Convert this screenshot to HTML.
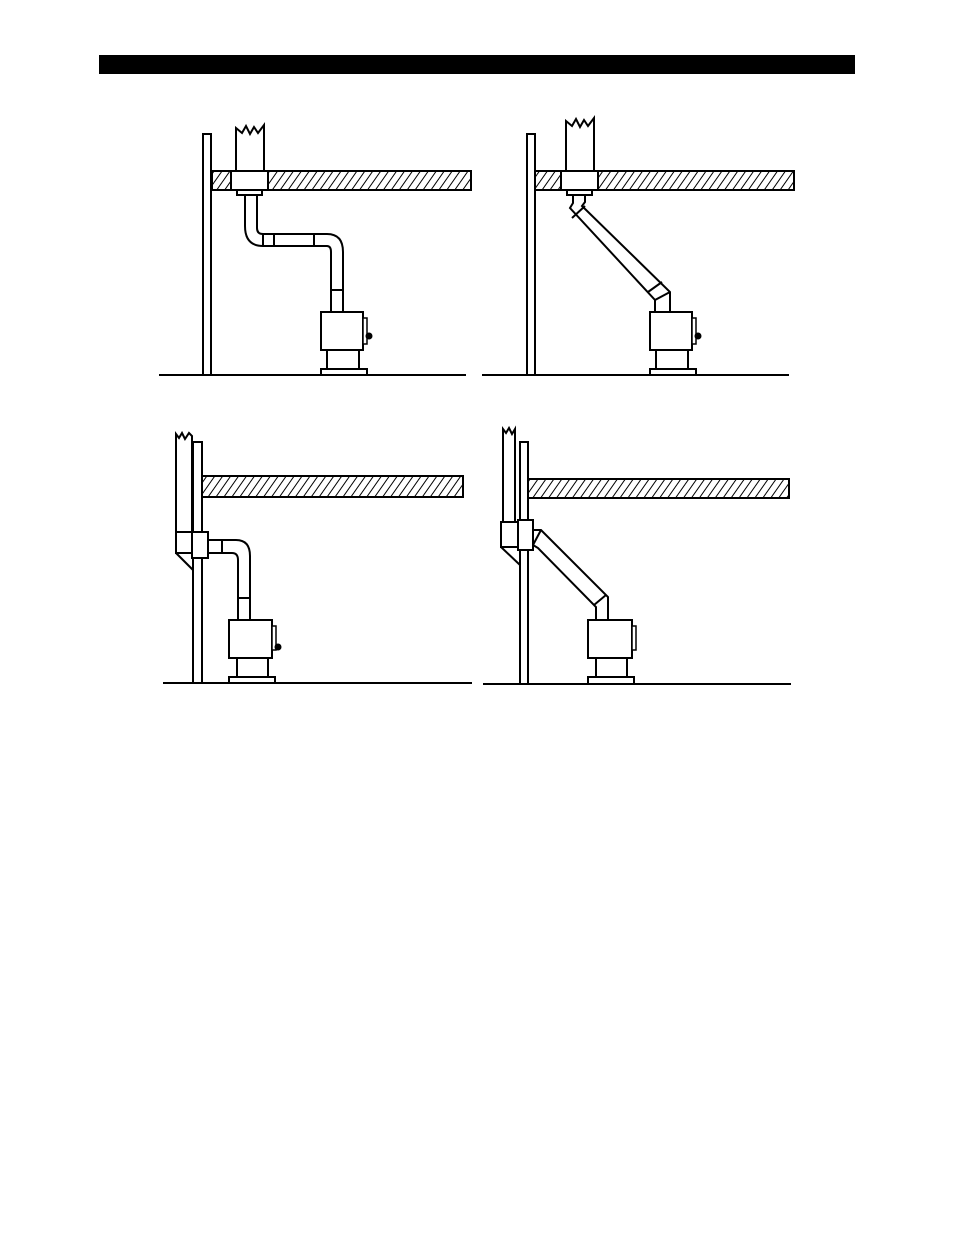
<!DOCTYPE html>
<html><head><style>body{margin:0;background:#fff}svg{display:block}</style></head>
<body>
<svg width="954" height="1235" viewBox="0 0 954 1235" xmlns="http://www.w3.org/2000/svg">
<defs>
<pattern id="h" width="6.5" height="6.5" patternUnits="userSpaceOnUse" patternTransform="rotate(35)">
<line x1="0" y1="0" x2="0" y2="6.5" stroke="#000" stroke-width="2"/>
</pattern>
</defs>
<rect x="99" y="55" width="756" height="19" fill="#000"/>
<g fill="#fff" stroke="#000" stroke-width="2">
<!-- Diagram 1 -->
<line x1="159" y1="375" x2="466" y2="375"/>
<rect x="203" y="134" width="8" height="241"/>
<rect x="212" y="171" width="259" height="19" fill="url(#h)"/>
<path d="M236 190 V128 L242 133 L246 126 L250 134 L254 127 L258 133 L264 125 V190"/>
<rect x="231" y="171" width="37" height="19"/>
<rect x="237" y="190" width="25" height="5"/>
<path d="M245 195 V226 Q245 246 263 246 H327 M257 195 V228 Q257 234 263 234 H327 Q343 234 343 252 V312 M327 246 Q331 246 331 252 V312" fill="none"/>
<line x1="263" y1="234" x2="263" y2="246"/><line x1="274" y1="234" x2="274" y2="246"/><line x1="314" y1="234" x2="314" y2="246"/>
<line x1="331" y1="290" x2="343" y2="290"/>
<rect x="321" y="312" width="42" height="38"/>
<rect x="327" y="350" width="32" height="19"/>
<rect x="321" y="369" width="46" height="6"/>
<rect x="363" y="318" width="4" height="26" stroke-width="1.5"/>
<circle cx="369" cy="336" r="3" fill="#000" stroke-width="1"/>
<!-- Diagram 2 -->
<line x1="482" y1="375" x2="789" y2="375"/>
<rect x="527" y="134" width="8" height="241"/>
<rect x="535" y="171" width="259" height="19" fill="url(#h)"/>
<path d="M566 190 V121 L572 126 L576 119 L580 127 L584 120 L588 126 L594 118 V190"/>
<rect x="561" y="171" width="37" height="19"/>
<rect x="567" y="190" width="25" height="5"/>
<path d="M573 195 V203 L570 208 L655 300 V312 M585 195 V202 L582 206 L670 292 V312" fill="none"/>
<line x1="572" y1="218" x2="585" y2="206"/><line x1="648" y1="292" x2="662" y2="282"/><line x1="655" y1="300" x2="670" y2="292"/>
<rect x="650" y="312" width="42" height="38"/>
<rect x="656" y="350" width="32" height="19"/>
<rect x="650" y="369" width="46" height="6"/>
<rect x="692" y="318" width="4" height="26" stroke-width="1.5"/>
<circle cx="698" cy="336" r="3" fill="#000" stroke-width="1"/>
<!-- Diagram 3 -->
<line x1="163" y1="683" x2="472" y2="683"/>
<path d="M176 533 V434 L179 438 L182 433 L185 439 L189 433 L192 436 V533"/>
<rect x="193" y="442" width="9" height="241"/>
<rect x="202" y="476" width="261" height="21" fill="url(#h)"/>
<rect x="176" y="532" width="17" height="21"/>
<path d="M176 553 L193 570" fill="none"/>
<rect x="192" y="532" width="16" height="26"/>
<path d="M208 540 H236 Q250 540 250 556 V620 M208 553 H232 Q238 553 238 560 V620" fill="none"/>
<line x1="222" y1="540" x2="222" y2="553"/>
<line x1="238" y1="598" x2="250" y2="598"/>
<rect x="229" y="620" width="43" height="38"/>
<rect x="237" y="658" width="31" height="19"/>
<rect x="229" y="677" width="46" height="6"/>
<rect x="272" y="626" width="4" height="24" stroke-width="1.5"/>
<circle cx="278" cy="647" r="3" fill="#000" stroke-width="1"/>
<!-- Diagram 4 -->
<line x1="483" y1="684" x2="791" y2="684"/>
<path d="M503 522 V429 L506 433 L509 428 L512 434 L515 429 V522"/>
<rect x="520" y="442" width="8" height="242"/>
<rect x="528" y="479" width="261" height="19" fill="url(#h)"/>
<rect x="501" y="522" width="19" height="25"/>
<path d="M501 547 L520 565" fill="none"/>
<rect x="518" y="520" width="15" height="30"/>
<path d="M533 530 L541 530 L608 597 V620 M533 545 L538 548 L596 607 V620" fill="none"/>
<line x1="541" y1="530" x2="533" y2="545"/><line x1="594" y1="605" x2="606" y2="595"/>
<rect x="588" y="620" width="44" height="38"/>
<rect x="596" y="658" width="31" height="19"/>
<rect x="588" y="677" width="46" height="7"/>
<rect x="632" y="626" width="4" height="24" stroke-width="1.5"/>
</g>
</svg>
</body></html>
